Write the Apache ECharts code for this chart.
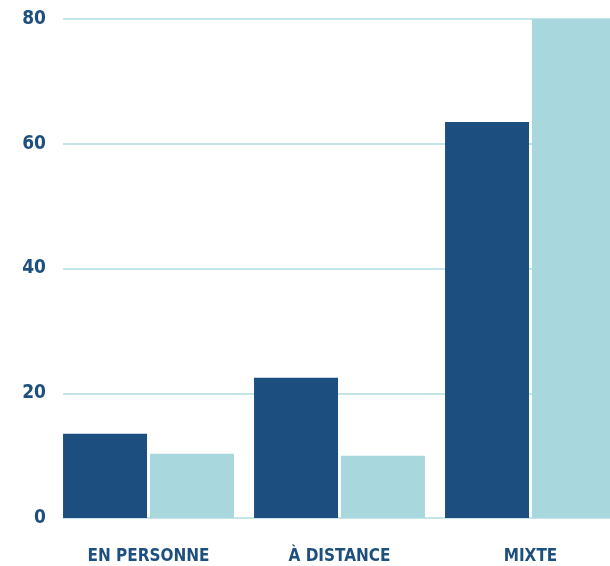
<!DOCTYPE html>
<html>
<head>
<meta charset="utf-8">
<script src="https://cdn.jsdelivr.net/npm/echarts@6/dist/echarts.min.js"></script>
<style>
html,body{margin:0;padding:0;background:#fff;}
#chart{width:610px;height:566px;}
</style>
</head>
<body>
<div id="chart"></div>
<script>
var categories = ['EN PERSONNE', 'À DISTANCE', 'MIXTE'];
var seriesDark = [13.5, 22.5, 63.5];
var seriesLight = [10.3, 10, 80];
var yTicks = [0, 20, 40, 60, 80];

var font = '"DejaVu Sans Condensed", "Liberation Sans Narrow", sans-serif';
var myChart = echarts.init(document.getElementById('chart'));
var option = {
    backgroundColor: '#fff',
    animation: false,
    grid: [
        // bars (last bar runs past the right edge)
        { left: 53, width: 573, top: 19, bottom: 48, outerBoundsMode: 'none', containLabel: false },
        // grid lines + y labels
        { left: 63, right: 0, top: 19, bottom: 48, outerBoundsMode: 'none' }
    ],
    xAxis: [
        {
            type: 'category',
            gridIndex: 0,
            data: categories,
            boundaryGap: true,
            axisLine: { show: false },
            axisTick: { show: false },
            axisLabel: {
                margin: 30,
                color: '#1d4f7f',
                fontFamily: font,
                fontWeight: 'bold',
                fontSize: 17
            }
        },
        {
            type: 'value',
            gridIndex: 1,
            min: 0,
            max: 1,
            show: false
        }
    ],
    yAxis: [
        {
            type: 'value',
            gridIndex: 0,
            min: 0,
            max: 80,
            interval: 20,
            show: false
        },
        {
            type: 'value',
            gridIndex: 1,
            min: yTicks[0],
            max: yTicks[yTicks.length - 1],
            interval: 20,
            axisLine: { show: false },
            axisTick: { show: false },
            axisLabel: {
                margin: 17,
                color: '#1d4f7f',
                fontFamily: font,
                fontWeight: 'bold',
                fontSize: 19
            },
            splitLine: {
                show: true,
                lineStyle: { color: '#b3dce1', width: 1.5 }
            }
        }
    ],
    series: [
        {
            type: 'bar',
            xAxisIndex: 0,
            yAxisIndex: 0,
            data: seriesDark,
            barGap: '3.5%',
            barCategoryGap: '10.5%',
            itemStyle: { color: '#1c4f80' }
        },
        {
            type: 'bar',
            xAxisIndex: 0,
            yAxisIndex: 0,
            data: seriesLight,
            itemStyle: { color: '#a8d8de' }
        }
    ]
};
myChart.setOption(option);
</script>
</body>
</html>
